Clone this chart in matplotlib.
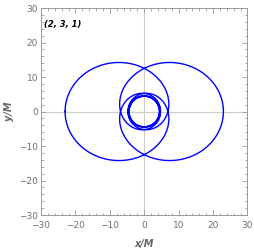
import numpy as np
import matplotlib
matplotlib.use("Agg")
import matplotlib.pyplot as plt
from matplotlib.ticker import MultipleLocator

# periodic orbit (z, w, v) around a Schwarzschild black hole, M = 1
orbit_label = "(2, 3, 1)"
z, w, v = 2, 3, 1
r_apo = 23.0          # apastron
axis_limits = [-30, 30]
major_ticks = [-30, -20, -10, 0, 10, 20, 30]


def precession(e, chi):
    p = r_apo * (1 - e)
    f = np.sqrt(p / (p - 6 - 2 * e * np.cos(chi)))
    return np.trapezoid(f, chi)


# find the eccentricity whose radial period sweeps 2*pi*(w + v/z)
target = 2 * np.pi * (w + v / z)
chi_one = np.linspace(0, 2 * np.pi, 400001)
lo, hi = 0.3, 17 / 25 - 1e-9
for _ in range(80):
    mid = 0.5 * (lo + hi)
    if precession(mid, chi_one) < target:
        lo = mid
    else:
        hi = mid
e = 0.5 * (lo + hi)
p = r_apo * (1 - e)

chi = np.linspace(np.pi, np.pi + 2 * z * np.pi, 800001)
f = np.sqrt(p / (p - 6 - 2 * e * np.cos(chi)))
phi = np.concatenate([[0], np.cumsum(0.5 * (f[1:] + f[:-1]) * np.diff(chi))]) + np.pi
r = p / (1 + e * np.cos(chi))
x = r * np.cos(phi)
y = r * np.sin(phi)

fig = plt.figure(figsize=(2.54, 2.52), dpi=100)
ax = fig.add_axes([0.1614, 0.1468, 0.813, 0.8214])

gray = "#9a9a9a"
ax.axhline(0, color="#cccccc", lw=0.8, zorder=1)
ax.axvline(0, color="#cccccc", lw=0.8, zorder=1)
ax.plot(x, y, color="#0000ff", lw=1.0, zorder=2)

ax.set_xlim(axis_limits)
ax.set_ylim(axis_limits)
ax.set_xticks(major_ticks)
ax.set_yticks(major_ticks)
ax.xaxis.set_minor_locator(MultipleLocator(2))
ax.yaxis.set_minor_locator(MultipleLocator(2))
ax.tick_params(which="both", direction="in", top=True, right=True,
               color=gray, width=0.6, labelsize=6.5, labelcolor="#6e6e6e")
ax.tick_params(axis="x", pad=4)
ax.tick_params(axis="y", pad=2)
ax.tick_params(which="major", length=3.5)
ax.tick_params(which="minor", length=1.8)
for s in ax.spines.values():
    s.set_color(gray)
    s.set_linewidth(0.7)

ax.set_xlabel("x/M", fontsize=7, style="italic", fontweight="bold", color="#666666", labelpad=7)
ax.set_ylabel("y/M", fontsize=7, style="italic", fontweight="bold", color="#666666", labelpad=4)
ax.text(0.013, 0.918, orbit_label, transform=ax.transAxes, fontsize=6,
        style="italic", fontweight="bold", color="black", va="center", ha="left")

fig.savefig("out.png", dpi=100)
